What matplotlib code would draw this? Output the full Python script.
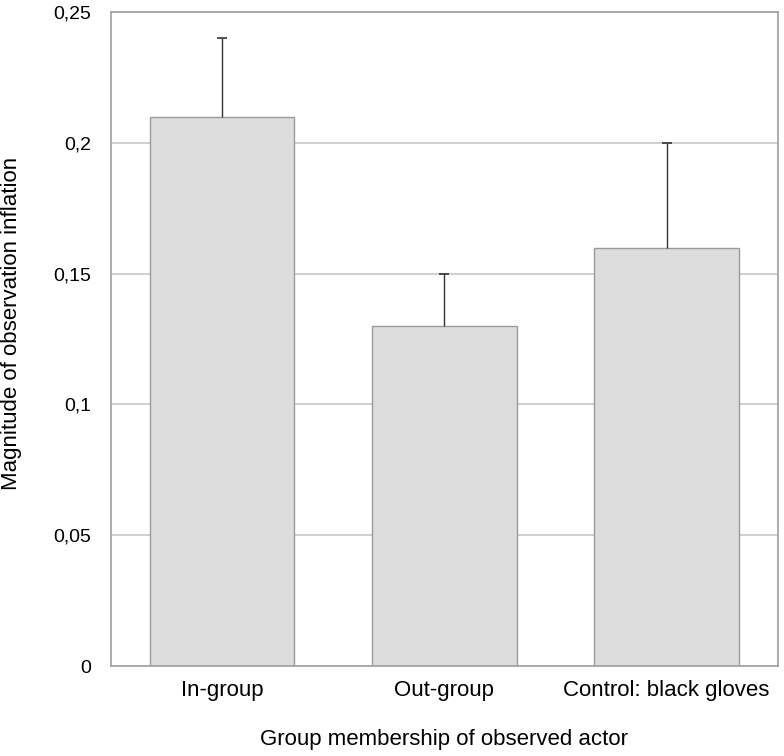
import matplotlib
matplotlib.use("Agg")
import matplotlib.pyplot as plt
from matplotlib.ticker import FuncFormatter

categories = ["In-group", "Out-group", "Control: black gloves"]
values = [0.21, 0.13, 0.16]
upper_err = [0.03, 0.02, 0.04]
yticks = [0, 0.05, 0.1, 0.15, 0.2, 0.25]

plt.rcParams['font.family'] = ['Liberation Sans', 'DejaVu Sans']
fig = plt.figure(figsize=(7.84, 7.56), dpi=100)
ax = fig.add_axes([0.1416, 0.119, 0.8504, 0.865])

x = list(range(len(categories)))
ax.bar(x, values, width=0.65, color='#dcdddc', edgecolor='#9a9a9a', linewidth=1.0, zorder=2)
tops = [v + e for v, e in zip(values, upper_err)]
ax.vlines(x, values, tops, color='#333333', linewidth=1.0, zorder=3)
ax.plot(x, tops, linestyle='none', marker='_', markersize=7, markeredgewidth=1.2,
        color='#333333', zorder=3)

ax.set_xlim(-0.5, 2.5)
ax.set_ylim(0, 0.25)
ax.set_yticks(yticks)
ax.yaxis.set_major_formatter(FuncFormatter(lambda v, p: ('%g' % v).replace('.', ',')))
ax.set_xticks(x)
ax.set_xticklabels(categories)
ax.yaxis.grid(True, color='#c8c8c8', linewidth=1.2, zorder=0)
ax.set_axisbelow(True)
for s in ax.spines.values():
    s.set_color('#a0a0a0')
    s.set_linewidth(1.2)
ax.tick_params(axis='y', length=0, labelsize=14, pad=14, colors='black')
ax.tick_params(axis='x', length=0, labelsize=16, pad=10, colors='black')
ax.set_xlabel("Group membership of observed actor", fontsize=16, labelpad=20)
ax.set_ylabel("Magnitude of observation inflation", fontsize=16)
ax.yaxis.set_label_coords(-0.133, 0.524)

fig.savefig("out.png", dpi=100)
